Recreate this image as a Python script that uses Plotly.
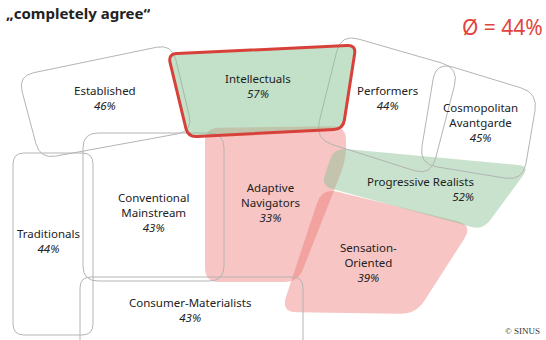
import plotly.graph_objects as go

# ---- data ----
milieus = ["Established", "Intellectuals", "Performers", "Cosmopolitan<br>Avantgarde",
           "Adaptive<br>Navigators", "Progressive Realists", "Sensation-<br>Oriented",
           "Conventional<br>Mainstream", "Traditionals", "Consumer-Materialists"]
shares = [46, 57, 44, 45, 33, 52, 39, 43, 44, 43]
average = 44
title_text = "„completely agree“"

# ---- geometry (layout only) ----
geom = {
    "Established": dict(pts=[(18, 76), (172, 44), (193, 131), (40, 159)], r=16, kind="outline"),
    "Intellectuals": dict(pts=[(168, 54), (356, 45), (343, 129), (188, 137)], r=9, kind="hl"),
    "Performers": dict(pts=[(341, 34), (459, 68), (431, 176), (315, 139)], r=18, kind="outline"),
    "Cosmopolitan<br>Avantgarde": dict(pts=[(436, 62), (538, 93), (523, 181), (419, 164)], r=18, kind="outline"),
    "Adaptive<br>Navigators": dict(pts=[(205, 128), (346, 126), (346, 160), (298, 282), (205, 282)], r=14, kind="red"),
    "Progressive Realists": dict(pts=[(334, 148), (530, 166), (483, 230), (321, 186)], r=12, kind="green"),
    "Sensation-<br>Oriented": dict(pts=[(322, 188), (473, 225), (416, 314), (281, 312)], r=16, kind="red"),
    "Conventional<br>Mainstream": dict(pts=[(83, 133), (224, 133), (224, 281), (83, 281)], r=15, kind="outline"),
    "Traditionals": dict(pts=[(13, 153), (93, 153), (93, 335), (13, 335)], r=11, kind="outline"),
    "Consumer-Materialists": dict(pts=[(80, 277), (303, 277), (303, 360), (80, 360)], r=11, kind="outline"),
}
label_pos = {
    "Established": (105, 98, "center"), "Intellectuals": (258, 86, "center"),
    "Performers": (387, 98, "center"), "Cosmopolitan<br>Avantgarde": (480, 122, "center"),
    "Adaptive<br>Navigators": (270, 202, "center"), "Progressive Realists": (420, 189, "right"),
    "Sensation-<br>Oriented": (368, 262, "center"), "Conventional<br>Mainstream": (153, 212, "center"),
    "Traditionals": (48, 241, "center"), "Consumer-Materialists": (190, 310, "center"),
}


def rounded_path(pts, r):
    n = len(pts)
    segs = []
    for i in range(n):
        p0 = pts[i - 1]
        p1 = pts[i]
        p2 = pts[(i + 1) % n]

        def toward(a, b, d):
            dx, dy = b[0] - a[0], b[1] - a[1]
            L = (dx * dx + dy * dy) ** 0.5
            d = min(d, L / 2)
            return (a[0] + dx / L * d, a[1] + dy / L * d)
        a = toward(p1, p0, r)
        b = toward(p1, p2, r)
        segs.append((a, p1, b))
    d = "M %.1f,%.1f " % segs[0][2]
    for i in range(1, n + 1):
        a, c, b = segs[i % n]
        d += "L %.1f,%.1f Q %.1f,%.1f %.1f,%.1f " % (a[0], a[1], c[0], c[1], b[0], b[1])
    return d + "Z"


fig = go.Figure()
fig.add_trace(go.Scatter(x=[0, 546], y=[0, 340], mode="markers",
                         marker=dict(opacity=0), hoverinfo="skip", showlegend=False))

styles = {
    "red": dict(fillcolor="rgba(236,110,105,0.40)", line=dict(width=0)),
    "green": dict(fillcolor="rgba(140,195,150,0.48)", line=dict(width=0)),
    "outline": dict(fillcolor="rgba(0,0,0,0)", line=dict(color="#b4b4b4", width=1)),
    "hl": dict(fillcolor="rgba(140,195,150,0.52)", line=dict(color="#d8413a", width=3)),
}
order = ["red", "green", "outline", "hl"]
shapes = []
for kind in order:
    for name in milieus:
        g = geom[name]
        if g["kind"] != kind:
            continue
        shapes.append(dict(type="path", xref="x", yref="y",
                           path=rounded_path(g["pts"], g["r"]), layer="above", **styles[kind]))
fig.update_layout(shapes=shapes)

font = dict(family="Noto Sans, DejaVu Sans, sans-serif", size=11.5, color="#222222")
for name, val in zip(milieus, shares):
    x, y, al = label_pos[name]
    fig.add_annotation(x=x, y=y, xref="x", yref="y", showarrow=False,
                       text=f"{name}<br><i>{val}%</i>", font=font, align=al)

fig.add_annotation(x=4, y=13, xref="x", yref="y", xanchor="left", showarrow=False,
                   text=f"<b>{title_text}</b>",
                   font=dict(family="Noto Sans, DejaVu Sans, sans-serif", size=15, color="#222222"))
fig.add_annotation(x=545, y=27, xref="x", yref="y", xanchor="right", showarrow=False,
                   text=f"Ø = {average}%",
                   font=dict(family="Noto Sans, DejaVu Sans, sans-serif", size=21, color="#e0453d"))
fig.add_annotation(x=542, y=331, xref="x", yref="y", xanchor="right", showarrow=False,
                   text="© SINUS",
                   font=dict(family="Liberation Serif, serif", size=9, color="#333333"))

fig.update_xaxes(range=[0, 546], visible=False, fixedrange=True)
fig.update_yaxes(range=[340, 0], visible=False, fixedrange=True)
fig.update_layout(width=546, height=340, margin=dict(l=0, r=0, t=0, b=0),
                  plot_bgcolor="white", paper_bgcolor="white")
fig.write_html("out.html", config=dict(displayModeBar=False))
